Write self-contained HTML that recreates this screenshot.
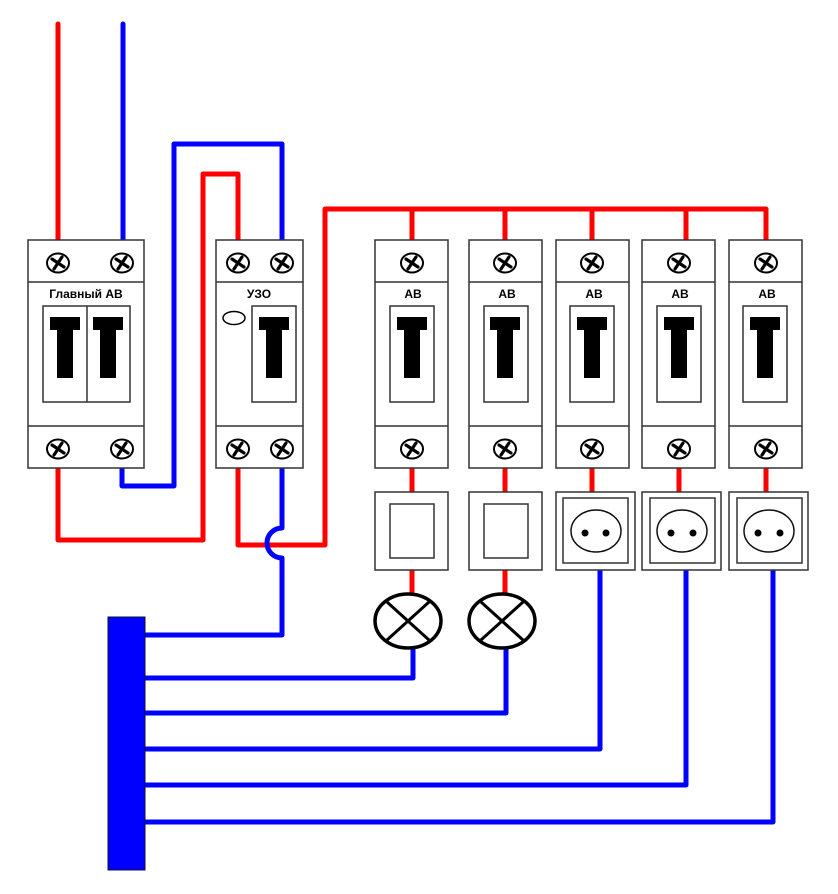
<!DOCTYPE html>
<html><head><meta charset="utf-8"><style>html,body{margin:0;padding:0;background:#fff}svg{display:block}</style></head>
<body>
<svg width="838" height="894" viewBox="0 0 838 894" xmlns="http://www.w3.org/2000/svg" font-family="Liberation Sans, sans-serif">
<defs>
<g id="sc">
<ellipse cx="0" cy="0" rx="11" ry="9.5" fill="#fff" stroke="#000" stroke-width="2"/>
<path d="M-6,-4 L6,4 M4,-6 L-4,6" stroke="#000" stroke-width="3.2" stroke-linecap="round"/>
</g>
<g id="tt"><path d="M0,0 H30 V13 H23 V61 H7 V13 H0 Z" fill="#000"/></g>
</defs>
<g fill="none" stroke-width="5" stroke-linecap="round" stroke-linejoin="round">
<!-- red wires -->
<g stroke="#f00">
<path d="M58,24 V240"/>
<path d="M58,468 V540 H203 V174 H238 V240"/>
<path d="M238,468 V545 H325 V209 H766 V240"/>
<path d="M412,209 V240 M505,209 V240 M592,209 V240 M686,209 V240"/>
<path d="M412,468 V492 M505,468 V492 M592,468 V492 M679,468 V492 M766,468 V492"/>
<path d="M412,570 V594 M505,570 V594"/>
</g>
<!-- blue wires -->
<g stroke="#00f">
<path d="M123,24 V240"/>
<path d="M122,468 V486 H174 V144 H282 V240"/>
<path d="M282,468 V528 A14,14 0 0 0 282,558 V635 H146"/>
<path d="M413,648 V678 H146"/>
<path d="M506,648 V713 H146"/>
<path d="M600,570 V749 H146"/>
<path d="M686,570 V785 H146"/>
<path d="M773,570 V822 H146"/>
</g>
</g>
<!-- busbar -->
<rect x="108" y="617" width="37" height="253" fill="#00f" stroke="#113" stroke-width="1"/>
<g fill="#fff" stroke="#333" stroke-width="1.5">
<!-- main AB -->
<rect x="28" y="240" width="116" height="228"/>
<path d="M28,282 H144 M28,426 H144"/>
<rect x="43" y="306" width="87" height="96"/><path d="M87,306 V402"/>
<!-- UZO -->
<rect x="216" y="240" width="87" height="228"/>
<path d="M216,282 H303 M216,426 H303"/>
<rect x="252" y="306" width="44" height="96"/>
<ellipse cx="234" cy="318" rx="11" ry="6.5" stroke="#000"/>
</g>
<use href="#tt" x="50" y="317"/><use href="#tt" x="93" y="317"/><use href="#tt" x="259" y="317"/>
<use href="#sc" x="58" y="263"/><use href="#sc" x="122" y="263"/><use href="#sc" x="58" y="449"/><use href="#sc" x="122" y="449"/>
<use href="#sc" x="238" y="263"/><use href="#sc" x="282" y="263"/><use href="#sc" x="238" y="449"/><use href="#sc" x="282" y="449"/>
<text x="86" y="298" font-size="12" font-weight="bold" text-anchor="middle">Главный АВ</text>
<text x="259" y="298" font-size="12" font-weight="bold" text-anchor="middle">УЗО</text>
<!-- breakers -->
<g id="br">
<g fill="#fff" stroke="#333" stroke-width="1.5">
<rect x="375" y="240" width="73" height="228"/><path d="M375,282 H448 M375,426 H448"/><rect x="390" y="306" width="44" height="96"/>
<rect x="469" y="240" width="73" height="228"/><path d="M469,282 H542 M469,426 H542"/><rect x="484" y="306" width="44" height="96"/>
<rect x="556" y="240" width="73" height="228"/><path d="M556,282 H629 M556,426 H629"/><rect x="570" y="306" width="44" height="96"/>
<rect x="642" y="240" width="73" height="228"/><path d="M642,282 H715 M642,426 H715"/><rect x="657" y="306" width="44" height="96"/>
<rect x="729" y="240" width="73" height="228"/><path d="M729,282 H802 M729,426 H802"/><rect x="743" y="306" width="44" height="96"/>
</g>
</g>
<use href="#tt" x="397" y="317"/><use href="#tt" x="490" y="317"/><use href="#tt" x="577" y="317"/><use href="#tt" x="664" y="317"/><use href="#tt" x="750" y="317"/>
<use href="#sc" x="412" y="263"/><use href="#sc" x="505" y="263"/><use href="#sc" x="592" y="263"/><use href="#sc" x="679" y="263"/><use href="#sc" x="766" y="263"/>
<use href="#sc" x="412" y="449"/><use href="#sc" x="505" y="449"/><use href="#sc" x="592" y="449"/><use href="#sc" x="679" y="449"/><use href="#sc" x="766" y="449"/>
<g font-size="12" font-weight="bold" text-anchor="middle">
<text x="413" y="298">АВ</text><text x="507" y="298">АВ</text><text x="594" y="298">АВ</text><text x="680" y="298">АВ</text><text x="767" y="298">АВ</text>
</g>
<!-- switches -->
<g fill="#fff" stroke="#333" stroke-width="1.5">
<rect x="375" y="492" width="73" height="78"/><rect x="390" y="504" width="44" height="54"/>
<rect x="469" y="492" width="73" height="78"/><rect x="484" y="504" width="44" height="54"/>
<!-- sockets -->
<rect x="556" y="492" width="79" height="78"/><rect x="563" y="498" width="65" height="65"/>
<rect x="642" y="492" width="79" height="78"/><rect x="650" y="498" width="65" height="65"/>
<rect x="729" y="492" width="79" height="78"/><rect x="737" y="498" width="65" height="65"/>
<ellipse cx="596" cy="531" rx="25" ry="21" stroke="#111"/>
<ellipse cx="682" cy="531" rx="25" ry="21" stroke="#111"/>
<ellipse cx="769" cy="531" rx="25" ry="21" stroke="#111"/>
</g>
<g fill="#000">
<circle cx="585" cy="533" r="3.5"/><circle cx="606" cy="533" r="3.5"/>
<circle cx="671" cy="533" r="3.5"/><circle cx="693" cy="533" r="3.5"/>
<circle cx="758" cy="533" r="3.5"/><circle cx="780" cy="533" r="3.5"/>
</g>
<!-- lamps -->
<g fill="#fff" stroke="#000" stroke-width="3.5">
<ellipse cx="408" cy="621" rx="33" ry="27"/>
<ellipse cx="502" cy="621" rx="33" ry="27"/>
</g>
<g stroke="#000" stroke-width="3">
<path d="M387,602 L429,640 M429,602 L387,640"/>
<path d="M481,602 L523,640 M523,602 L481,640"/>
</g>
</svg>
</body></html>
